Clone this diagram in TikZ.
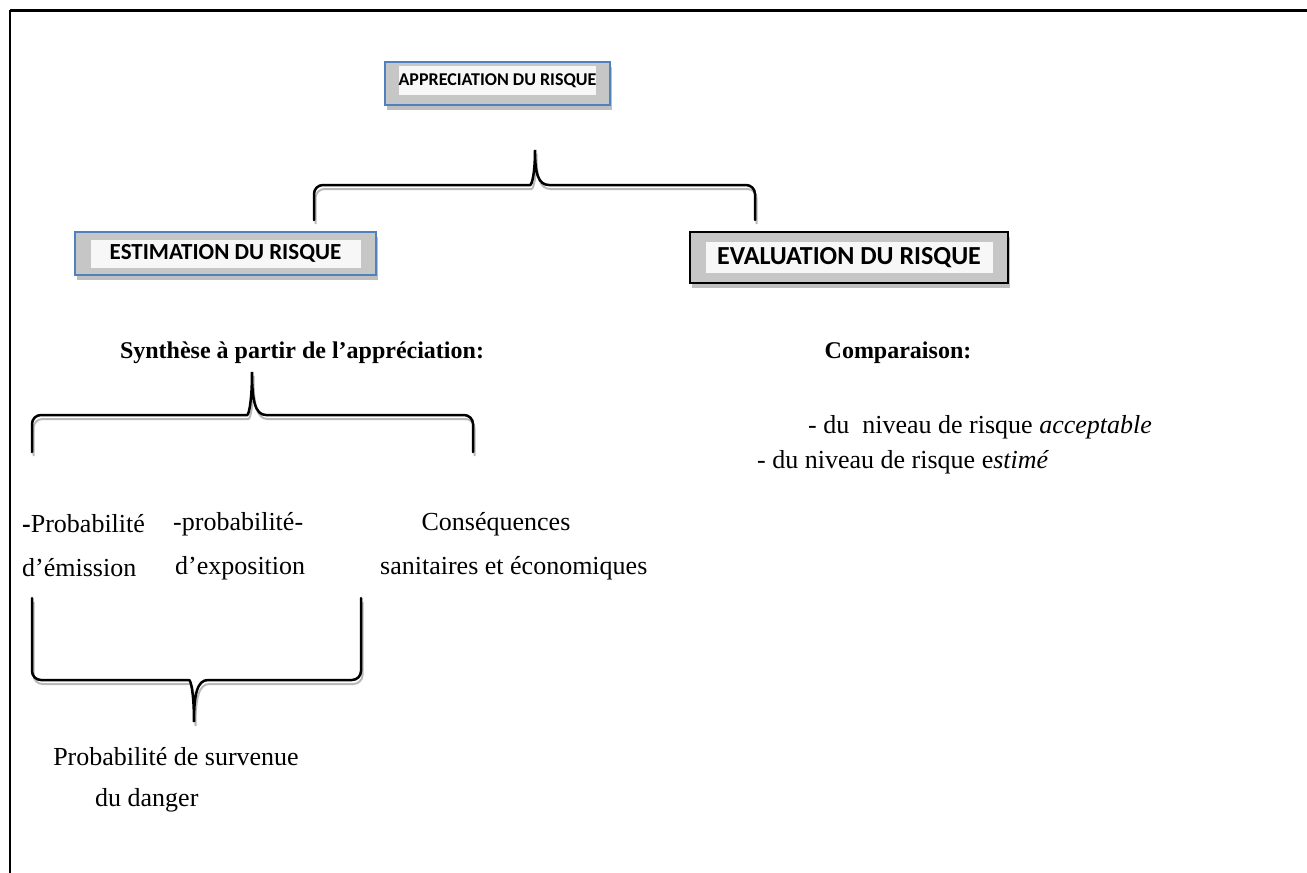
\documentclass[tikz,border=0pt]{standalone}
\usepackage{fontspec}
\setmainfont{Liberation Serif}
\newfontfamily\calibri{Carlito}
\usetikzlibrary{shadows}
\definecolor{boxblue}{RGB}{79,129,189}

\tikzset{
  txt/.style={font=\fontsize{26}{30}\selectfont, inner sep=0pt},
  titre/.style={font=\fontsize{24}{28}\selectfont\bfseries, inner sep=0pt},
  cadre/.style={fill=gray!45, line width=1.5pt, inner sep=0pt,
    drop shadow={shadow xshift=2pt, shadow yshift=-5pt, fill=gray!50, opacity=1}},
  etiquette/.style={fill=gray!6, inner sep=0pt},
  accolade/.style={line width=2.5pt, line cap=round},
  ombre/.style={line width=2pt, gray!55, xshift=1.5pt, yshift=-4pt},
}

% accolade: x gauche, x droite, x pointe, y bouts, y barre, y pointe
\newcommand{\wbrace}[6]{%
  \draw[ombre] (#1,#4) [rounded corners=9pt] -- (#1,#5) -- ({#3-14},#5) [sharp corners]
    .. controls ({#3-3},#5) and (#3,{#5+0.35*(#6-#5)}) .. (#3,#6)
    .. controls (#3,{#5+0.35*(#6-#5)}) and ({#3+3},#5) .. ({#3+14},#5)
    [rounded corners=9pt] -- (#2,#5) -- (#2,#4);
  \draw[accolade] (#1,#4) [rounded corners=9pt] -- (#1,#5) -- ({#3-14},#5) [sharp corners]
    .. controls ({#3-3},#5) and (#3,{#5+0.35*(#6-#5)}) .. (#3,#6)
    .. controls (#3,{#5+0.35*(#6-#5)}) and ({#3+3},#5) .. ({#3+14},#5)
    [rounded corners=9pt] -- (#2,#5) -- (#2,#4);
}

\begin{document}
\begin{tikzpicture}[x=1pt,y=-1pt]
    \useasboundingbox (0,0) rectangle (1307,873);
    \draw[line width=3pt] (10,10) -- (1307,10);
    \draw[line width=2pt] (10,10) -- (10,873);

    % cadres
    \node[cadre, draw=boxblue, minimum width=225pt, minimum height=43pt] (apprCadre) at (497.5,83.5) {};
    \node[etiquette, minimum width=196pt, minimum height=29pt, font=\calibri\bfseries\fontsize{18}{20}\selectfont]
        (appr) at ([yshift=3pt]apprCadre.center) {APPRECIATION DU RISQUE};
    \node[cadre, draw=boxblue, minimum width=301pt, minimum height=43pt] (estimCadre) at (225.5,253.5) {};
    \node[etiquette, minimum width=270pt, minimum height=28pt, font=\calibri\bfseries\fontsize{23}{25}\selectfont]
        (estim) at (estimCadre.center) {ESTIMATION DU RISQUE};
    \node[cadre, draw=black, line width=2.5pt, minimum width=318pt, minimum height=51pt] (evalCadre) at (849,257.5) {};
    \node[etiquette, minimum width=287pt, minimum height=31pt, font=\calibri\bfseries\fontsize{26}{28}\selectfont]
        (eval) at (evalCadre.center) {EVALUATION DU RISQUE};

    % textes
    \node[titre] (synth) at (302,353) {Synthèse à partir de l’appréciation:};
    \node[titre] (compar) at (898,353) {Comparaison:};
    \node[txt, anchor=west] (acc) at (808,427) {- du\ \ niveau de risque \textit{acceptable}};
    \node[txt, anchor=west] (est) at (757,462) {- du niveau de risque e\textit{stimé}};
    \node[txt, anchor=west] (pemi) at (22,524) {\textbf{-}Probabilité};
    \node[txt, anchor=west] (pexp) at (173,524) {-probabilité-};
    \node[txt] (cons) at (496,524) {Conséquences};
    \node[txt, anchor=west] (emi) at (22,568) {d’émission};
    \node[txt, anchor=west] (expo) at (175,568) {d’exposition};
    \node[txt, anchor=west] (sani) at (380,568) {sanitaires et économiques};
    \node[txt] (surv) at (176,757) {Probabilité de survenue};
    \node[txt, anchor=west] (dang) at (95,800) {du danger};

    % accolades
    \wbrace{314}{755}{535}{220}{185}{150}
    \wbrace{32}{473}{252}{452}{415}{372}
    \wbrace{32}{361}{194}{598}{680}{722}
\end{tikzpicture}
\end{document}
